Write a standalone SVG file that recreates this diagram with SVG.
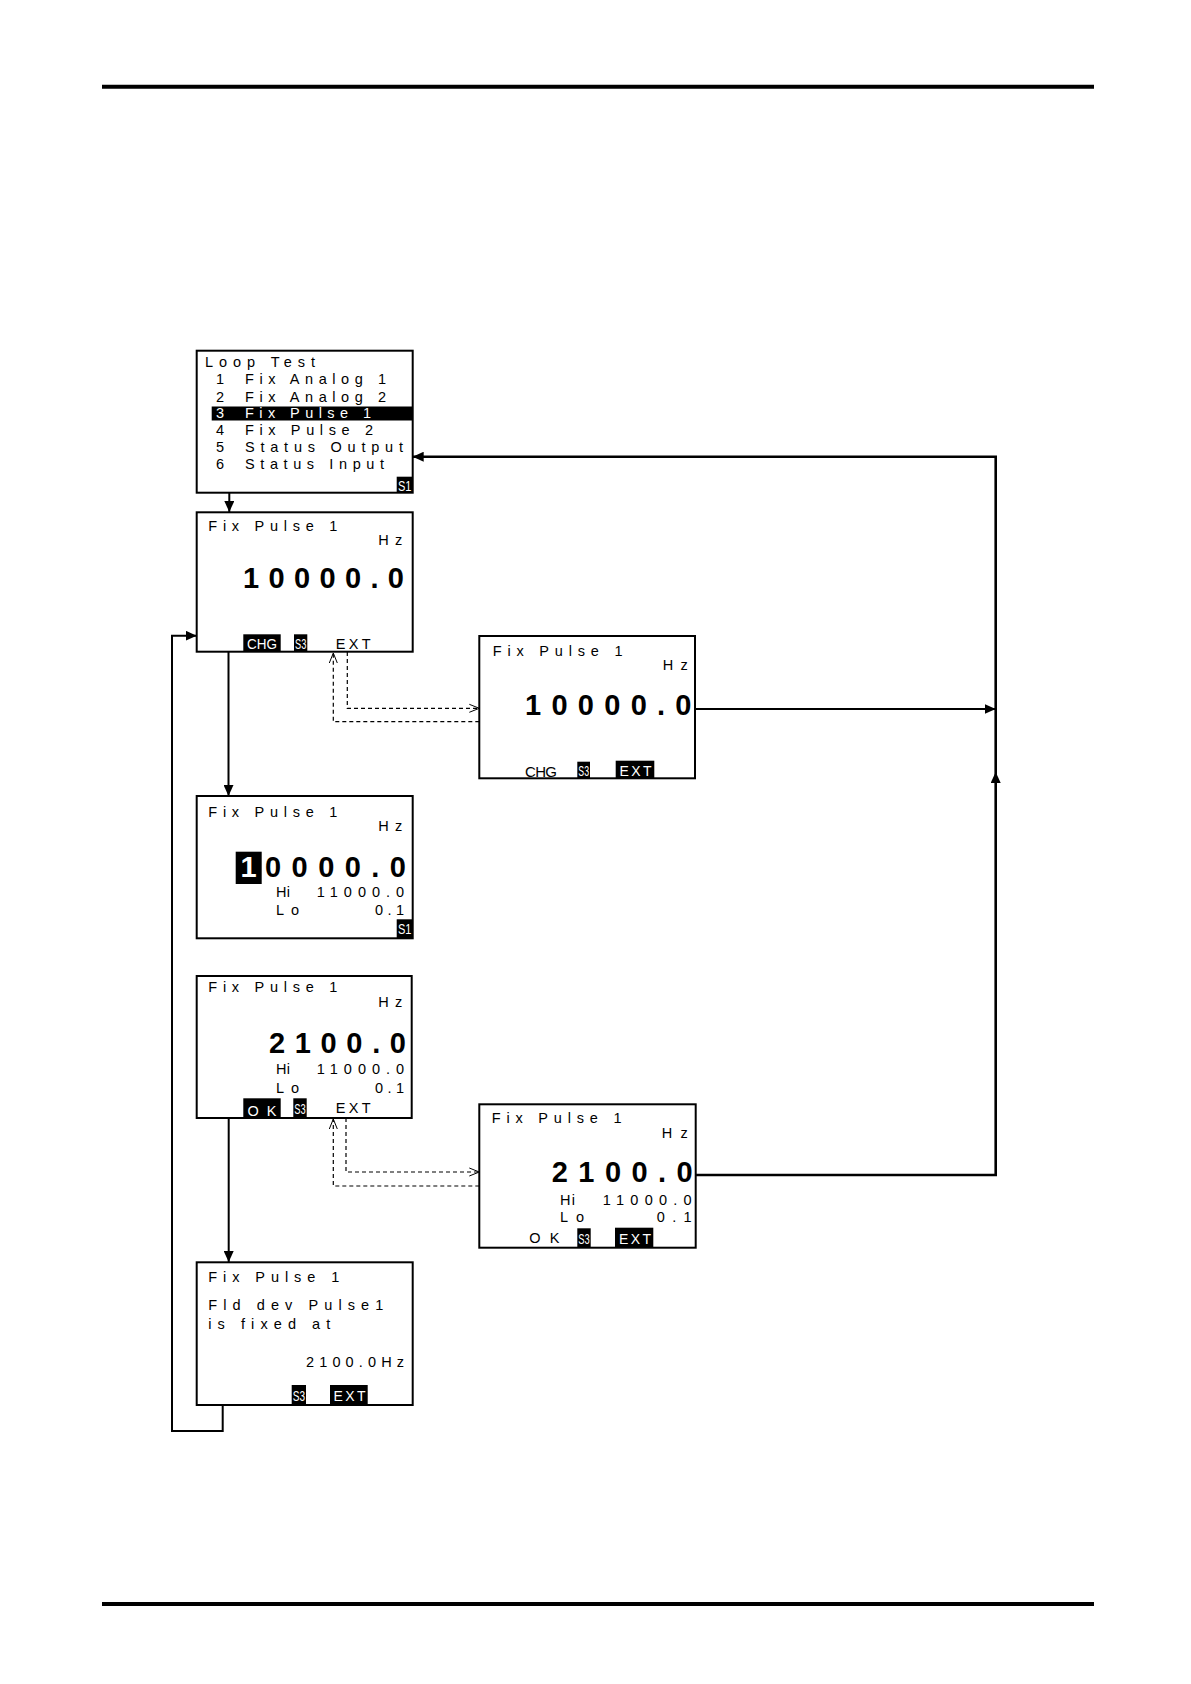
<svg xmlns="http://www.w3.org/2000/svg" width="1191" height="1684" viewBox="0 0 1191 1684">
<style>
.box{fill:#fff;stroke:#000;stroke-width:2}
.t{font-family:"Liberation Sans",Arial,sans-serif;font-size:14.5px;fill:#000}
.big{font-family:"Liberation Sans",Arial,sans-serif;font-size:29px;font-weight:bold;fill:#000}
.bd{font-family:"Liberation Sans",Arial,sans-serif;font-size:14px;fill:#fff}
.hl{fill:#000}
.t.w,.big.w{fill:#fff}
.c{fill:none;stroke:#000;stroke-width:2}
.c2{fill:none;stroke:#000;stroke-width:2.6}
.d{fill:none;stroke:#000;stroke-width:1.2;stroke-dasharray:4 3}
</style>
<defs>
<marker id="a" markerUnits="userSpaceOnUse" markerWidth="12" markerHeight="10" refX="11" refY="5" orient="auto"><path d="M0,0 L11,5 L0,10 Z" fill="#000"/></marker>
<marker id="o" markerUnits="userSpaceOnUse" markerWidth="12" markerHeight="10" refX="10" refY="5" orient="auto"><path d="M0,1 L10,5 L0,9" fill="none" stroke="#000" stroke-width="1"/></marker>
</defs>
<rect x="0" y="0" width="1191" height="1684" fill="#fff"/>
<line x1="102" y1="86.7" x2="1094" y2="86.7" stroke="#000" stroke-width="4"/>
<line x1="102" y1="1604" x2="1094" y2="1604" stroke="#000" stroke-width="4"/>

<g id="connectors">
<path class="c" d="M229.3 493 V512" marker-end="url(#a)"/>
<path class="c" d="M228.5 652 V796" marker-end="url(#a)"/>
<path class="c" d="M228.7 1118 V1262" marker-end="url(#a)"/>
<path class="c" d="M222.7 1405 V1431 H172 V635.7 H196.7" marker-end="url(#a)"/>
<path class="d" d="M347.3 652 V708.3 H479.3" marker-end="url(#o)"/>
<path class="d" d="M479.3 721.7 H333.3 V653" marker-end="url(#o)"/>
<path class="d" d="M346 1118 V1172 H479.3" marker-end="url(#o)"/>
<path class="d" d="M479.3 1186 H333.3 V1119" marker-end="url(#o)"/>
<path class="c" d="M695 709 H995.7" marker-end="url(#a)"/>
<path class="c2" d="M695.7 1175 H995.7 V772" marker-end="url(#a)"/>
<path class="c2" d="M995.7 772 V456.7 H412.7" marker-end="url(#a)"/>
</g>

<g id="n1">
<rect class="box" x="196.7" y="350.7" width="216" height="142"/>
<text class="t" x="205" y="367.3" textLength="110">Loop Test</text>
<text class="t" x="216" y="384.3">1</text><text class="t" x="245" y="384.3" textLength="141">Fix Analog 1</text>
<text class="t" x="216" y="401.5">2</text><text class="t" x="245" y="401.5" textLength="141">Fix Analog 2</text>
<rect class="hl" x="211.7" y="406.5" width="201" height="14"/>
<text class="t w" x="216" y="418.3">3</text><text class="t w" x="245" y="418.3" textLength="126">Fix Pulse 1</text>
<text class="t" x="216" y="435">4</text><text class="t" x="245" y="435" textLength="128">Fix Pulse 2</text>
<text class="t" x="216" y="452">5</text><text class="t" x="245" y="452" textLength="158">Status Output</text>
<text class="t" x="216" y="469.3">6</text><text class="t" x="245" y="469.3" textLength="139">Status Input</text>
<rect class="hl" x="396.7" y="476.7" width="16" height="16"/>
<text class="bd" x="398" y="490.5" textLength="13.5" lengthAdjust="spacingAndGlyphs">S1</text>
</g>

<g id="n2">
<rect class="box" x="196.7" y="512.3" width="216" height="139.4"/>
<text class="t" x="208.3" y="531" textLength="129">Fix Pulse 1</text>
<text class="t" x="378.3" y="545" textLength="24">Hz</text>
<text class="big" x="243" y="588.3" textLength="161">10000.0</text>
<rect class="hl" x="243.3" y="634.3" width="37.4" height="17.4"/>
<text class="bd" x="247" y="649" textLength="30" lengthAdjust="spacingAndGlyphs">CHG</text>
<rect class="hl" x="294" y="634.3" width="13.3" height="17.4"/>
<text class="bd" x="295" y="649" textLength="11.3" lengthAdjust="spacingAndGlyphs">S3</text>
<text class="t" x="335.7" y="649" textLength="35">EXT</text>
</g>

<g id="n3">
<rect class="box" x="479.3" y="636" width="215.7" height="142.3"/>
<text class="t" x="492.7" y="656" textLength="130">Fix Pulse 1</text>
<text class="t" x="662.7" y="670" textLength="25">Hz</text>
<text class="big" x="525" y="715" textLength="166.5">10000.0</text>
<text class="t" x="525" y="776.5" textLength="32" style="font-size:15px">CHG</text>
<rect class="hl" x="577.3" y="761.7" width="12.7" height="16.6"/>
<text class="bd" x="578.3" y="776" textLength="10.7" lengthAdjust="spacingAndGlyphs">S3</text>
<rect class="hl" x="615.7" y="760.7" width="38.6" height="17.6"/>
<text class="bd" x="619.5" y="776" textLength="32">EXT</text>
</g>

<g id="n4">
<rect class="box" x="196.7" y="796" width="216" height="142.3"/>
<text class="t" x="208.3" y="816.7" textLength="129">Fix Pulse 1</text>
<text class="t" x="378.3" y="830.7" textLength="24">Hz</text>
<rect class="hl" x="235.7" y="851.7" width="26" height="32.3"/>
<text class="big" x="240.5" y="876.7" style="fill:#fff">1</text>
<text class="big" x="265" y="876.7" textLength="141">0000.0</text>
<text class="t" x="276" y="897.3" textLength="14">Hi</text>
<text class="t" x="316.7" y="897.3" textLength="87.5">11000.0</text>
<text class="t" x="276" y="915" textLength="23">Lo</text>
<text class="t" x="375" y="915" textLength="29">0.1</text>
<rect class="hl" x="396.7" y="919.3" width="16" height="19"/>
<text class="bd" x="398" y="934" textLength="13.5" lengthAdjust="spacingAndGlyphs">S1</text>
</g>

<g id="n5">
<rect class="box" x="196.7" y="976" width="215" height="142"/>
<text class="t" x="208.3" y="991.7" textLength="129">Fix Pulse 1</text>
<text class="t" x="378.3" y="1007.3" textLength="24">Hz</text>
<text class="big" x="269" y="1052.7" textLength="137">2100.0</text>
<text class="t" x="276" y="1074.3" textLength="14">Hi</text>
<text class="t" x="316.7" y="1074.3" textLength="87.5">11000.0</text>
<text class="t" x="276" y="1092.7" textLength="23">Lo</text>
<text class="t" x="375" y="1092.7" textLength="29">0.1</text>
<rect class="hl" x="243.3" y="1098.3" width="37.4" height="19.7"/>
<text class="t w" x="247.5" y="1116" textLength="29">O K</text>
<rect class="hl" x="293.3" y="1098.3" width="13.4" height="19.7"/>
<text class="bd" x="294.3" y="1114" textLength="11.4" lengthAdjust="spacingAndGlyphs">S3</text>
<text class="t" x="335.7" y="1113.3" textLength="35">EXT</text>
</g>

<g id="n6">
<rect class="box" x="479.3" y="1104.3" width="216.4" height="143.4"/>
<text class="t" x="491.7" y="1123.3" textLength="130">Fix Pulse 1</text>
<text class="t" x="661.7" y="1138.3" textLength="26">Hz</text>
<text class="big" x="551.7" y="1182.3" textLength="141">2100.0</text>
<text class="t" x="560" y="1205" textLength="15">Hi</text>
<text class="t" x="602.7" y="1205" textLength="89">11000.0</text>
<text class="t" x="560" y="1221.7" textLength="24">Lo</text>
<text class="t" x="656.7" y="1221.7" textLength="35">0.1</text>
<text class="t" x="529.3" y="1242.7" textLength="30">O K</text>
<rect class="hl" x="577.3" y="1228.3" width="13.4" height="18.7"/>
<text class="bd" x="578.3" y="1243.5" textLength="11.4" lengthAdjust="spacingAndGlyphs">S3</text>
<rect class="hl" x="615" y="1227.7" width="38.3" height="19.3"/>
<text class="bd" x="619" y="1243.5" textLength="32">EXT</text>
</g>

<g id="n7">
<rect class="box" x="196.7" y="1262.3" width="216" height="142.7"/>
<text class="t" x="208.3" y="1282.3" textLength="131">Fix Pulse 1</text>
<text class="t" x="208.3" y="1310" textLength="175">Fld dev Pulse1</text>
<text class="t" x="208.3" y="1329" textLength="122">is fixed at</text>
<text class="t" x="306" y="1366.7" textLength="98">2100.0Hz</text>
<rect class="hl" x="291.7" y="1385" width="14.3" height="20"/>
<text class="bd" x="292.7" y="1400.5" textLength="12.3" lengthAdjust="spacingAndGlyphs">S3</text>
<rect class="hl" x="330" y="1385" width="37.7" height="20"/>
<text class="bd" x="333.5" y="1400.5" textLength="32">EXT</text>
</g>
</svg>
